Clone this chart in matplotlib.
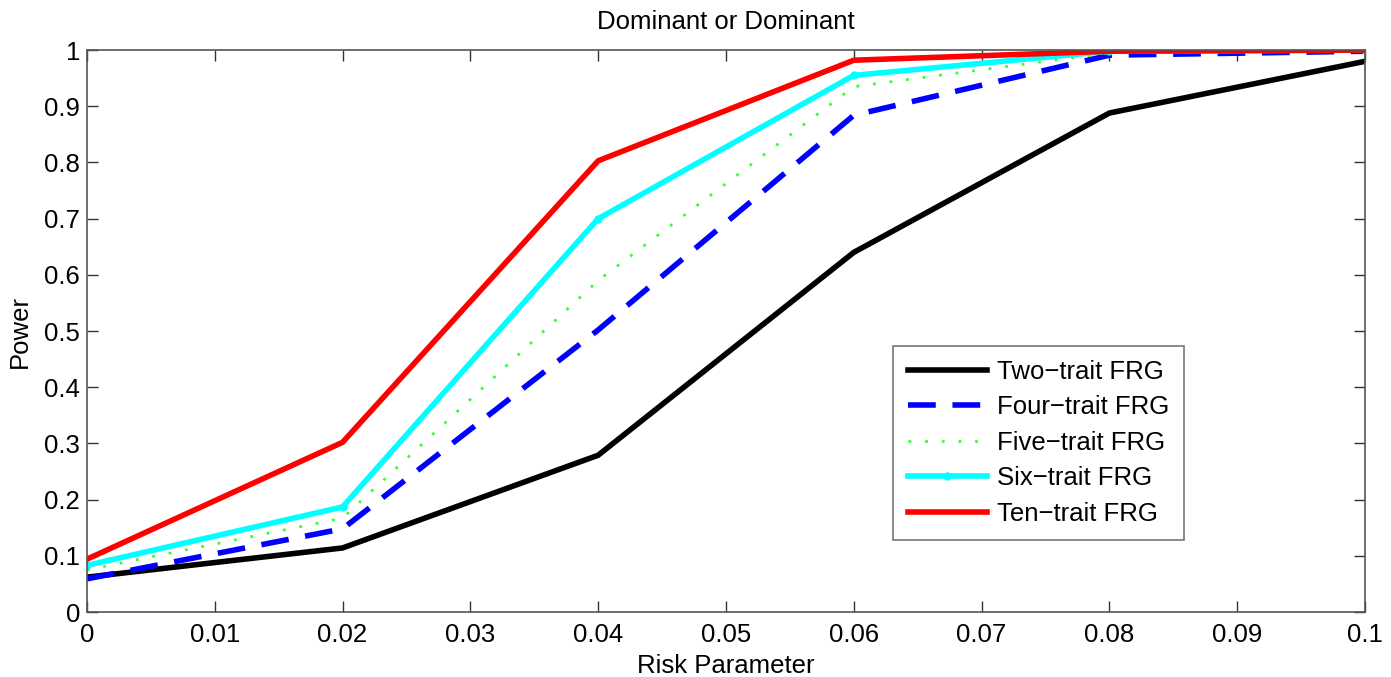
import matplotlib
matplotlib.use("Agg")
import matplotlib.pyplot as plt

plt.rcParams['font.family'] = ['Liberation Sans', 'DejaVu Sans']

x = [0, 0.02, 0.04, 0.06, 0.08, 0.1]
two = [0.062, 0.114, 0.279, 0.640, 0.888, 0.980]
four = [0.059, 0.148, 0.502, 0.884, 0.991, 0.998]
five = [0.075, 0.167, 0.590, 0.935, 0.995, 1.0]
six = [0.083, 0.187, 0.700, 0.955, 0.998, 1.0]
ten = [0.094, 0.302, 0.803, 0.982, 0.998, 1.0]

FS = 18.5

fig = plt.figure(figsize=(13.91, 6.77), dpi=100)
ax = fig.add_axes([0.0625, 0.096, 0.9188, 0.830])

ax.plot(x, two, color='black', lw=4, label='Two\u2212trait FRG')
ax.plot(x, four, color='blue', lw=4, ls=(0, (5, 3)), label='Four\u2212trait FRG')
ax.plot(x, five, color='#33ff33', lw=2, ls=(0, (1, 5)), label='Five\u2212trait FRG')
ax.plot(x, six, color='cyan', lw=4, marker='o', ms=5, label='Six\u2212trait FRG')
ax.plot(x, ten, color='red', lw=4, label='Ten\u2212trait FRG')

ax.set_xlim(0, 0.1)
ax.set_ylim(0, 1)
ax.set_xticks([i / 100 for i in range(11)])
ax.set_xticklabels(['0'] + ['%g' % (i / 100) for i in range(1, 10)] + ['0.1'])
ax.set_yticks([i / 10 for i in range(11)])
ax.set_yticklabels(['0'] + ['%g' % (i / 10) for i in range(1, 10)] + ['1'])
ax.tick_params(direction='in', top=True, right=True, labelsize=FS, length=8, width=1,
               colors='#333333', labelcolor='black', pad=5)
ax.tick_params(axis='x', pad=8)
for s in ax.spines.values():
    s.set_color('#555555')
    s.set_linewidth(1.2)

ax.set_xlabel('Risk Parameter', fontsize=FS, labelpad=5)
ax.set_ylabel('Power', fontsize=FS, labelpad=9)
ax.set_title('Dominant or Dominant', fontsize=FS, pad=15)

leg = ax.legend(loc='lower left', bbox_to_anchor=(0.631, 0.128), borderaxespad=0, fontsize=FS,
                frameon=True, fancybox=False, edgecolor='#555555', handlelength=3.1,
                handletextpad=0.4, borderpad=0.55, labelspacing=0.45)
leg.get_frame().set_linewidth(1.2)

fig.savefig('out.png', dpi=100)
